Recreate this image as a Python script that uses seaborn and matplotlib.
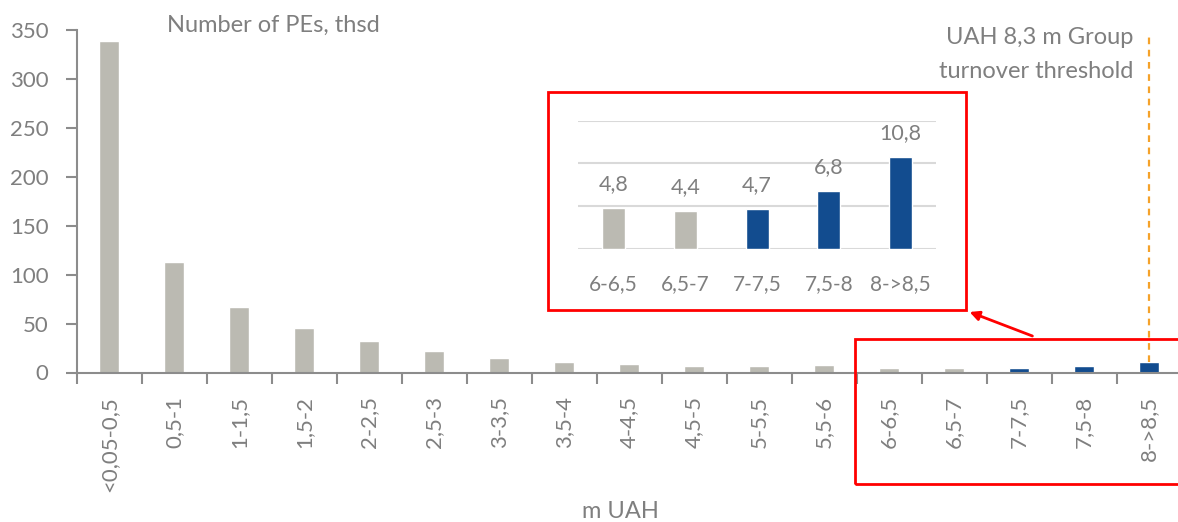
import pandas as pd
import matplotlib.pyplot as plt
import seaborn as sns
from matplotlib.patches import Rectangle, FancyArrowPatch

# Data: number of private entrepreneurs by turnover band
categories = ['<0,05-0,5', '0,5-1', '1-1,5', '1,5-2', '2-2,5', '2,5-3', '3-3,5', '3,5-4',
              '4-4,5', '4,5-5', '5-5,5', '5,5-6', '6-6,5', '6,5-7', '7-7,5', '7,5-8', '8->8,5']
values = [339, 113, 67, 45, 32, 22, 15.3, 11, 8.8, 7, 6.8, 7.8, 4.8, 4.4, 4.7, 6.8, 10.8]
above_threshold = [False] * 14 + [True] * 3

inset_categories = categories[12:]
inset_values = values[12:]
inset_labels = ['4,8', '4,4', '4,7', '6,8', '10,8']

GRAY = '#BBBAB2'
BLUE = '#124C8F'
TXT = '#7F7F7F'
AXC = '#8C8C8C'
RED = '#FF0000'

df = pd.DataFrame({'band': categories, 'n': values, 'hi': above_threshold})
df['color'] = [BLUE if h else GRAY for h in df['hi']]
ins = df.iloc[12:].reset_index(drop=True)

sns.set_style('white')
plt.rcParams['font.family'] = ['Lato', 'DejaVu Sans']

W, H = 1178, 522
fig = plt.figure(figsize=(W / 100, H / 100), dpi=100)


def fx(x):
    return x / W


def fy(y):
    return 1 - y / H


# -------------------------
# MAIN CHART
# -------------------------
ax = fig.add_axes([fx(76.5), fy(372.5), fx(1105), (372.5 - 30) / H])
sns.barplot(data=df, x='band', y='n', hue='band', palette=list(df['color']),
            width=0.31, legend=False, ax=ax, saturation=1)
ax.set_xlim(-0.5, 16.5)
ax.set_ylim(0, 350)
ax.set_yticks(range(0, 351, 50))
ax.set_xlabel('')
ax.set_ylabel('')
for s in ['top', 'right']:
    ax.spines[s].set_visible(False)
for s in ['left', 'bottom']:
    ax.spines[s].set_color(AXC)
    ax.spines[s].set_linewidth(1.5)
ax.tick_params(axis='y', length=8, width=1.5, color=AXC, labelcolor=TXT,
               labelsize=16, pad=12, left=True)
ax.set_xticks(range(len(categories)))
ax.set_xticklabels(categories, rotation=90)
ax.tick_params(axis='x', which='major', length=0, pad=17, labelcolor=TXT, labelsize=16)
ax.set_xticks([i - 0.5 for i in range(len(categories) + 1)], minor=True)
ax.tick_params(axis='x', which='minor', length=8, width=1.5, color=AXC, bottom=True)

# threshold line at the last band
ax.plot([16, 16], [values[-1], 345], ls=(0, (3, 2.5)), color='#F5A22A', lw=1.6, zorder=1)

fig.text(fx(167), fy(25), 'Number of PEs, thsd', color=TXT, fontsize=17, va='center')
fig.text(fx(1133), fy(38), 'UAH 8,3 m Group', color=TXT, fontsize=17, va='center', ha='right')
fig.text(fx(1133), fy(71), 'turnover threshold', color=TXT, fontsize=17, va='center', ha='right')
fig.text(fx(620), fy(511), 'm UAH', color=TXT, fontsize=17, va='center', ha='center')

# -------------------------
# INSET (zoom on last bands)
# -------------------------
axi = fig.add_axes([fx(577.7), fy(248.7), (936.4 - 577.7) / W, (248.7 - 120.7) / H])
sns.barplot(data=ins, x='band', y='n', hue='band', palette=list(ins['color']),
            width=0.32, legend=False, ax=axi, saturation=1, zorder=3)
axi.set_xlim(-0.5, 4.5)
axi.set_ylim(0, 15)
axi.set_yticks([0, 5, 10, 15])
axi.yaxis.grid(True, color='#D9D9D9', lw=1.5)
axi.set_axisbelow(True)
axi.set_yticklabels([])
axi.set_xlabel('')
axi.set_ylabel('')
for s in axi.spines.values():
    s.set_visible(False)
axi.tick_params(axis='both', length=0)
axi.tick_params(axis='x', pad=18, labelcolor=TXT, labelsize=15)
for i, (v, lab) in enumerate(zip(inset_values, inset_labels)):
    axi.annotate(lab, (i, v), xytext=(0, 17), textcoords='offset points',
                 ha='center', va='center', color=TXT, fontsize=15.5)

# red frames and arrow
fig.add_artist(Rectangle((fx(548), fy(310)), (966 - 548) / W, (310 - 92.3) / H,
                         transform=fig.transFigure, fill=False, ec=RED, lw=2))
fig.add_artist(Rectangle((fx(854.5), fy(484)), (1190 - 854.5) / W, (484 - 339) / H,
                         transform=fig.transFigure, fill=False, ec=RED, lw=2))
fig.add_artist(FancyArrowPatch((fx(1035), fy(337)), (fx(967), fy(311)),
                               transform=fig.transFigure, arrowstyle='-|>',
                               mutation_scale=14, color=RED, lw=2))

plt.savefig('out.png', dpi=100)
